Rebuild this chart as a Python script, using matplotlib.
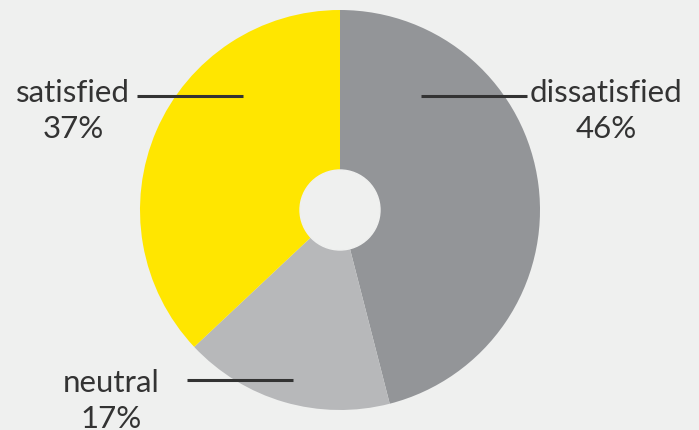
import matplotlib
matplotlib.use("Agg")
import matplotlib.pyplot as plt

labels = ["dissatisfied", "neutral", "satisfied"]
shares = [46, 17, 37]
colors = ["#939598", "#b7b8ba", "#ffe600"]

bg = "#eff0ef"
ink = "#333333"

W, H = 699, 431
fig = plt.figure(figsize=(W / 100, H / 100), dpi=100, facecolor=bg)
ax = fig.add_axes([0, 0, 1, 1])
ax.set_facecolor(bg)

# pie in pixel coords, y measured up from bottom
cx, cy, r = 340, H - 211, 200
ax.pie(shares, colors=colors, startangle=90, counterclock=False,
       center=(cx, cy), radius=r, frame=True,
       wedgeprops=dict(linewidth=0))
ax.add_patch(plt.Circle((cx, cy), 40, color=bg, zorder=5))
ax.set_xlim(0, W)
ax.set_ylim(0, H)
ax.axis("off")

# label positions: (text centre x, baseline y of name, leader line x0, x1, line y)
spots = {
    "dissatisfied": (606, 102, 421, 527, 97),
    "neutral": (111, 392, 187, 293, 381),
    "satisfied": (73, 102, 137, 243, 97),
}
for lab, val in zip(labels, shares):
    tx, by, x0, x1, ly = spots[lab]
    ax.text(tx, H - by, lab, ha="center", va="baseline", fontsize=22.5,
            family="Lato", color=ink, zorder=6)
    ax.text(tx, H - by - 36, f"{val}%", ha="center", va="baseline", fontsize=22.5,
            family="Lato", color=ink, zorder=6)
    ax.plot([x0, x1], [H - ly, H - ly], color=ink, lw=2.2, zorder=6,
            solid_capstyle="butt")

fig.savefig("out.png", dpi=100, facecolor=bg)
